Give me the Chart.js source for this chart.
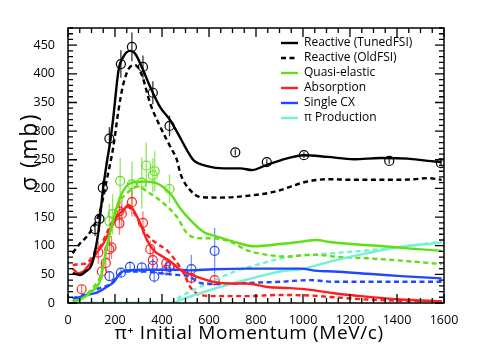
<!DOCTYPE html>
<html>
<head>
<meta charset="utf-8">
<script src="https://cdn.jsdelivr.net/npm/chart.js@4/dist/chart.umd.min.js"></script>
<style>
  html, body { margin: 0; padding: 0; background: #fff; }
  #wrap { width: 490px; height: 357px; }
</style>
</head>
<body>
<div id="wrap"><canvas id="xsec" width="490" height="357"></canvas></div>
<script>
// model curves (momentum in MeV/c, sigma in mb)
const tunedX = [20, 50, 75, 100, 122, 134, 148, 165, 179, 193, 215, 236, 264, 286, 314, 350, 392, 435, 478, 513, 535, 592, 663, 734, 784, 833, 904, 1004, 1104, 1217, 1331, 1445, 1530, 1590];
const tunedY = [52, 49, 55, 66, 105, 140, 195, 245, 280, 325, 406, 430, 440, 435, 412, 377, 342, 319, 288, 262, 249, 239, 235, 235, 232, 239, 249, 258, 255, 251, 253, 252, 248, 246];
const oldX = [20, 51, 80, 108, 137, 165, 193, 215, 236, 264, 286, 314, 350, 392, 435, 464, 478, 520, 563, 648, 762, 876, 1018, 1104, 1217, 1331, 1473, 1530, 1590];
const oldY = [87, 104, 116, 133, 162, 215, 273, 337, 383, 412, 415, 398, 348, 308, 273, 249, 226, 197, 185, 184, 187, 194, 212, 216, 215, 215, 216, 218, 215];

const qeX = [20, 50, 100, 137, 165, 193, 222, 264, 321, 378, 435, 478, 520, 577, 634, 705, 791, 904, 990, 1061, 1104, 1203, 1345, 1459, 1590];
const qeY = [3, 6, 20, 40, 98, 145, 185, 209, 212, 209, 191, 165, 145, 124, 116, 107, 99, 103, 107, 110, 107, 103, 99, 95, 91];
const qeOldX = [20, 50, 100, 140, 172, 208, 250, 293, 350, 407, 464, 506, 563, 620, 690, 762, 848, 933, 1018, 1061, 1132, 1274, 1416, 1590];
const qeOldY = [3, 6, 24, 50, 110, 168, 191, 203, 191, 174, 150, 122, 113, 113, 107, 92, 84, 81, 84, 84, 81, 78, 74, 68];

const absX = [20, 44, 65, 94, 122, 151, 179, 208, 236, 257, 279, 307, 336, 364, 407, 449, 478, 520, 620, 690, 762, 848, 947, 1032, 1132, 1274, 1416, 1590];
const absY = [60, 52, 55, 69, 87, 104, 127, 151, 162, 171, 162, 139, 110, 92, 80, 68, 58, 50, 37, 34, 34, 28, 26, 23, 17, 11, 6, 3];
const absOldX = [20, 51, 80, 108, 137, 165, 193, 222, 250, 279, 307, 336, 378, 421, 456, 492, 520, 563, 620, 762, 904, 1032, 1132, 1274, 1416, 1590];
const absOldY = [66, 68, 69, 84, 98, 122, 145, 156, 168, 159, 139, 119, 104, 92, 75, 52, 28, 14, 12, 12, 14, 13, 10, 6, 4, 3];

const cxX = [20, 50, 80, 122, 165, 193, 222, 250, 321, 392, 464, 513, 620, 762, 904, 990, 1061, 1132, 1274, 1416, 1590];
const cxY = [8, 10, 14, 18, 28, 36, 52, 57, 58, 58, 58, 57, 59, 60, 60, 60, 56, 55, 51, 47, 43];
const cxOldX = [20, 80, 108, 150, 179, 208, 240, 321, 392, 464, 513, 563, 648, 762, 904, 1032, 1132, 1274, 1416, 1590];
const cxOldY = [8, 16, 22, 28, 33, 46, 55, 55, 52, 49, 47, 35, 33, 35, 37, 40, 37, 37, 37, 37];

const prodX = [0, 450, 478, 563, 648, 762, 904, 990, 1132, 1274, 1416, 1590];
const prodY = [0, 0, 5, 17, 28, 41, 55, 59, 74, 87, 98, 105];
const prodOldX = [0, 440, 478, 520, 591, 690, 833, 947, 1032, 1132, 1274, 1416, 1590];
const prodOldY = [0, 0, 11, 20, 34, 52, 70, 81, 84, 87, 92, 98, 107];

// measured points with vertical errors
const reacDataX = [115, 134, 148, 176, 225, 272, 319, 361, 432, 712, 846, 1004, 1367, 1587];
const reacDataY = [129, 147, 201, 287, 417, 447, 412, 367, 309, 263, 246, 258, 248, 244];
const reacDataErr = [12, 15, 12, 20, 24, 25, 20, 20, 18, 5, 5, 5, 5, 5];

const qeDataX = [176, 190, 222, 272, 314, 333, 361, 369, 432];
const qeDataY = [143, 155, 213, 207, 210, 240, 223, 230, 199];
const qeDataErr = [30, 35, 40, 40, 45, 40, 30, 35, 25];

const absDataX = [58, 129, 144, 161, 176, 185, 219, 219, 229, 272, 319, 350, 361, 418, 432, 525, 624];
const absDataY = [24, 88, 55, 70, 94, 97, 160, 139, 156, 176, 140, 94, 75, 69, 65, 44, 40];
const absDataErr = [8, 20, 15, 15, 20, 20, 20, 20, 25, 25, 20, 15, 15, 10, 10, 10, 10];

const cxDataX = [176, 225, 264, 314, 361, 367, 418, 432, 525, 624];
const cxDataY = [47, 53, 63, 62, 65, 46, 58, 63, 59, 91];
const cxDataErr = [8, 8, 10, 10, 12, 10, 10, 10, 25, 40];

const xTicks = [0, 200, 400, 600, 800, 1000, 1200, 1400, 1600];
const yTicks = [0, 50, 100, 150, 200, 250, 300, 350, 400, 450];
const xTitle = '\u03c0\u207a Initial Momentum (MeV/c)';
const yTitle = '\u03c3 (mb)';

const BLACK = '#000000';
const GREEN = '#5fe014';
const RED = '#ff1e1e';
const BLUE = '#1f48ff';
const AQUA = '#72f2d2';

function pts(xs, ys) {
  return xs.map((x, i) => ({ x: x, y: ys[i] }));
}

function curve(label, xs, ys, color, dashed, legend) {
  return {
    label: label,
    data: pts(xs, ys),
    showLine: true,
    borderColor: color,
    borderWidth: 2.4,
    borderDash: dashed ? [5, 3.5] : [],
    pointRadius: 0,
    cubicInterpolationMode: 'monotone',
    legendItem: legend
  };
}

function marks(xs, ys, errs, color, barColor) {
  return {
    label: '',
    data: pts(xs, ys),
    errs: errs,
    barColor: barColor,
    showLine: false,
    pointStyle: 'circle',
    pointRadius: 4.5,
    pointBorderWidth: 1.2,
    pointBorderColor: color,
    pointBackgroundColor: 'rgba(0,0,0,0)'
  };
}

// vertical error bars, drawn through the scales
const errorBars = {
  id: 'errorBars',
  beforeDatasetsDraw(chart) {
    const c = chart.ctx;
    const x = chart.scales.x;
    const y = chart.scales.y;
    c.save();
    c.setLineDash([]);
    chart.data.datasets.forEach(ds => {
      if (!ds.errs) return;
      c.strokeStyle = ds.barColor;
      c.lineWidth = 1.3;
      ds.data.forEach((p, i) => {
        const px = x.getPixelForValue(p.x);
        c.beginPath();
        c.moveTo(px, y.getPixelForValue(p.y - ds.errs[i]));
        c.lineTo(px, y.getPixelForValue(p.y + ds.errs[i]));
        c.stroke();
      });
    });
    c.restore();
  }
};

// ROOT-style frame with inward ticks on all four sides, titles and legend
const frameTicks = {
  id: 'frameTicks',
  afterDatasetsDraw(chart) {
    const c = chart.ctx;
    const a = chart.chartArea;
    const x = chart.scales.x;
    const y = chart.scales.y;
    c.save();
    c.setLineDash([]);
    c.strokeStyle = '#000';
    c.lineWidth = 1.3;
    for (let i = 0; i <= 32; i++) {
      const v = i * 50;
      const px = x.getPixelForValue(v);
      const len = i % 4 === 0 ? 9 : 5;
      c.beginPath();
      c.moveTo(px, a.bottom); c.lineTo(px, a.bottom - len);
      c.moveTo(px, a.top); c.lineTo(px, a.top + len);
      c.stroke();
    }
    for (let i = 0; i <= 48; i++) {
      const v = i * 10;
      const py = y.getPixelForValue(v);
      const len = i % 5 === 0 ? 9 : 5;
      c.beginPath();
      c.moveTo(a.left, py); c.lineTo(a.left + len, py);
      c.moveTo(a.right, py); c.lineTo(a.right - len, py);
      c.stroke();
    }
    c.lineWidth = 1.5;
    c.strokeRect(a.left, a.top, a.right - a.left, a.bottom - a.top);

    // axis titles
    c.fillStyle = '#000';
    c.textAlign = 'center';
    c.textBaseline = 'middle';
    c.font = '19px "Open Sans"';
    c.letterSpacing = '0.6px';
    c.fillText(xTitle, 249, 334);
    c.save();
    c.translate(30, 152);
    c.rotate(-Math.PI / 2);
    c.font = '23px "Open Sans"';
    c.letterSpacing = '1.5px';
    c.fillText(yTitle, 0, 0);
    c.restore();
    c.letterSpacing = '0px';

    // legend
    const items = chart.data.datasets.filter(d => d.legendItem);
    c.font = '12px "Open Sans"';
    c.textAlign = 'left';
    items.forEach((d, i) => {
      const ly = 43 + i * 15;
      c.beginPath();
      c.strokeStyle = d.borderColor;
      c.lineWidth = 2.4;
      c.setLineDash(d.borderDash);
      c.moveTo(281, ly); c.lineTo(298, ly);
      c.stroke();
      c.setLineDash([]);
      c.fillText(d.label, 304, ly);
    });
    c.restore();
  }
};

const datasets = [
  curve('Reactive (TunedFSI)', tunedX, tunedY, BLACK, false, true),
  curve('Reactive (OldFSI)', oldX, oldY, BLACK, true, true),
  curve('Quasi-elastic', qeX, qeY, GREEN, false, true),
  curve('Absorption', absX, absY, RED, false, true),
  curve('Single CX', cxX, cxY, BLUE, false, true),
  curve('\u03c0 Production', prodX, prodY, AQUA, false, true),
  curve('', qeOldX, qeOldY, GREEN, true, false),
  curve('', absOldX, absOldY, RED, true, false),
  curve('', cxOldX, cxOldY, BLUE, true, false),
  curve('', prodOldX, prodOldY, AQUA, true, false),
  marks(reacDataX, reacDataY, reacDataErr, BLACK, 'rgba(0,0,0,0.8)'),
  marks(qeDataX, qeDataY, qeDataErr, GREEN, 'rgba(95,224,20,0.7)'),
  marks(absDataX, absDataY, absDataErr, RED, 'rgba(255,30,30,0.6)'),
  marks(cxDataX, cxDataY, cxDataErr, BLUE, 'rgba(31,72,255,0.6)')
];

new Chart(document.getElementById('xsec'), {
  type: 'scatter',
  data: { datasets: datasets },
  options: {
    responsive: false,
    animation: false,
    layout: { padding: { left: 0, right: 46, top: 28, bottom: 0 } },
    plugins: { legend: { display: false }, tooltip: { enabled: false } },
    scales: {
      x: {
        type: 'linear',
        min: 0,
        max: 1600,
        afterFit(scale) { scale.height = 54; },
        afterBuildTicks(scale) { scale.ticks = xTicks.map(v => ({ value: v })); },
        grid: { display: false },
        border: { display: false },
        ticks: {
          padding: 2,
          color: '#000',
          font: { family: 'Open Sans', size: 12.5 },
          callback: v => String(v)
        }
      },
      y: {
        min: 0,
        max: 480,
        afterFit(scale) { scale.width = 68; },
        afterBuildTicks(scale) { scale.ticks = yTicks.map(v => ({ value: v })); },
        grid: { display: false },
        border: { display: false },
        ticks: {
          padding: 5,
          color: '#000',
          font: { family: 'Open Sans', size: 12.5 },
          callback: v => String(v)
        }
      }
    }
  },
  plugins: [errorBars, frameTicks]
});
</script>
</body>
</html>
